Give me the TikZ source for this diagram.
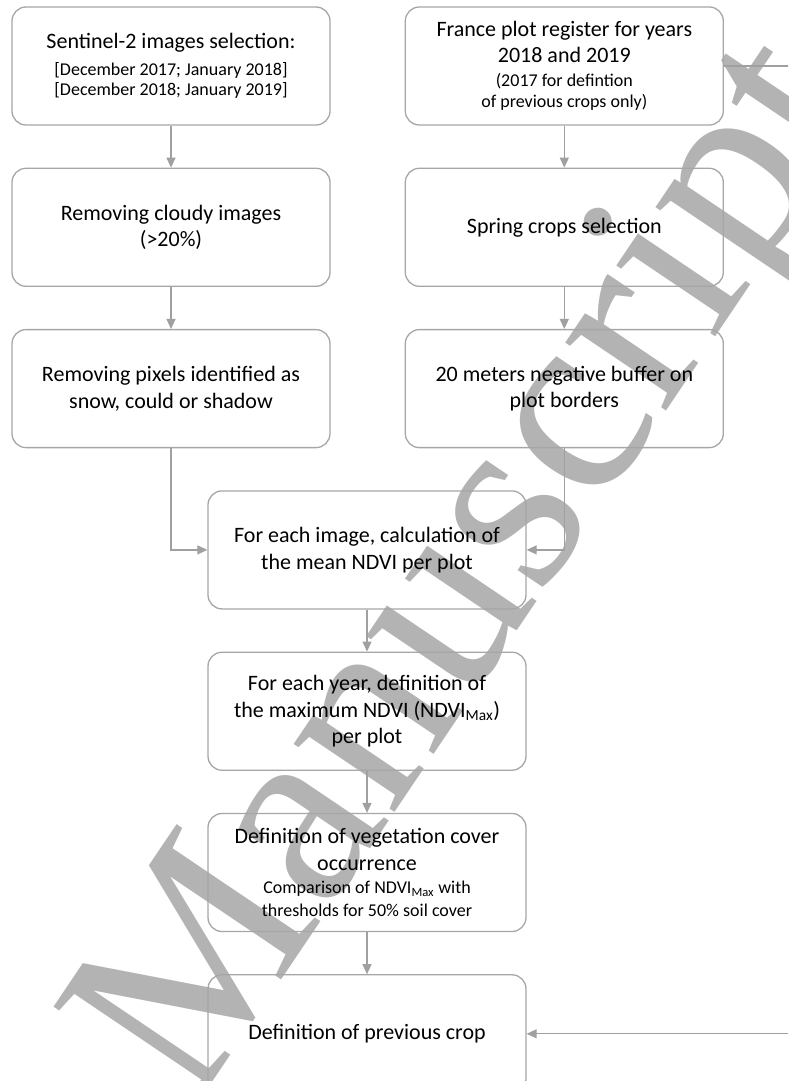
\documentclass[tikz,border=0pt]{standalone}
\usepackage{fontspec}
\setmainfont{Carlito}
\newfontfamily\wmfont{Liberation Serif}
\usetikzlibrary{arrows.meta}
\usetikzlibrary{positioning}
\usepackage{xcolor}
\definecolor{boxgray}{HTML}{A6A6A6}
\definecolor{linegray}{HTML}{A0A0A0}
\definecolor{wmgray}{HTML}{B3B3B3}
\newcommand{\smalltxt}{\fontsize{18}{21}\selectfont}

\begin{document}
\begin{tikzpicture}[x=1pt,y=1pt]
		\tikzstyle{block} = [rectangle, draw=boxgray, line width=1.3pt, 
		text width=300pt, align=flush center, rounded corners=14pt, minimum width=318pt, minimum height=118pt, inner sep=0pt, font=\fontsize{22}{26.5}\selectfont]
		\tikzstyle{line} = [draw=linegray, line width=1.2pt, -{Triangle[length=10pt, width=9pt]}]
		
		\clip (0,0) rectangle (788,-1081);
		
		% Watermark
		\node [rotate=56, text=wmgray, font=\wmfont\fontsize{265}{265}\selectfont] (wmark) at (482,-577) {Manuscript};
		
		% Sentinel-2 images
		\node [block] (s2) at (171,-66) {Sentinel-2 images selection:\\{\smalltxt [December 2017; January 2018]}\\[-6pt]{\smalltxt [December 2018; January 2019]}};
		
		% Plot register
		\node [block, right=74pt of s2] (reg) {France plot register for years\\2018 and 2019\\[-3pt]{\smalltxt (2017 for defintion}\\[-5pt]{\smalltxt of previous crops only)}};
		
		% Image processing
		\node [block, below=42pt of s2] (cloud) {Removing cloudy images\\(>20\%)};
		\node [block, below=42pt of cloud] (pix) {Removing pixels identified as\\snow, could or shadow};
		
		% Plot processing
		\node [block, below=42pt of reg] (spring) {Spring crops selection};
		\node [block, below=42pt of spring] (buf) {20 meters negative buffer on\\plot borders};
		
		% NDVI
		\node [block, below=42pt of pix, xshift=196pt] (mean) {For each image, calculation of\\the mean NDVI per plot};
		\node [block, below=42pt of mean] (max) {For each year, definition of\\the maximum NDVI (NDVI\textsubscript{Max})\\per plot};
		
		% Vegetation cover
		\node [block, below=42pt of max] (veg) {Definition of vegetation cover\\occurrence\\[-3pt]{\smalltxt Comparison of NDVI\textsubscript{Max} with}\\[-4pt]{\smalltxt thresholds for 50\% soil cover}};
		
		% Previous crop
		\node [block, below=42pt of veg] (prev) {Definition of previous crop};
		
		% arrows
		\draw [line] (s2) -- (cloud);
		\draw [line] (cloud) -- (pix);
		\draw [line] (reg) -- (spring);
		\draw [line] (spring) -- (buf);
		\draw [line] (pix.south) |- (mean.west);
		\draw [line] (buf.south) |- (mean.east);
		\draw [line] (mean) -- (max);
		\draw [line] (max) -- (veg);
		\draw [line] (veg) -- (prev);
		\draw [line] (reg.east) -- ++(80,0) |- (prev.east);
		
	\end{tikzpicture}
\end{document}
